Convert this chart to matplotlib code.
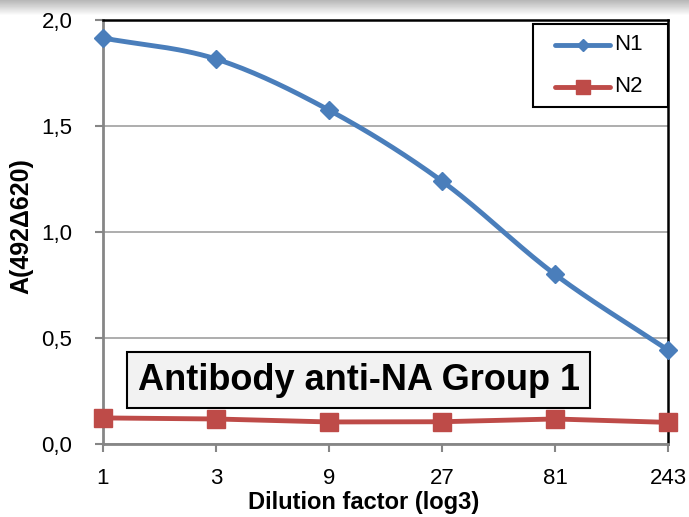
import numpy as np
import matplotlib
matplotlib.use("Agg")
import matplotlib.pyplot as plt
from matplotlib.patches import Rectangle
from matplotlib.lines import Line2D

plt.rcParams['font.family'] = ['Liberation Sans', 'DejaVu Sans']

dilutions = ["1", "3", "9", "27", "81", "243"]
n1 = [1.915, 1.816, 1.575, 1.240, 0.800, 0.443]
n2 = [0.123, 0.118, 0.104, 0.105, 0.118, 0.102]
y_ticks = [0.0, 0.5, 1.0, 1.5, 2.0]
y_tick_labels = ["0,0", "0,5", "1,0", "1,5", "2,0"]
series_names = ["N1", "N2"]

blue = "#4a7ebb"
red = "#be4b48"

def smooth(xs, ys, n=30):
    xs = np.asarray(xs, float); ys = np.asarray(ys, float)
    px = np.concatenate([[2*xs[0]-xs[1]], xs, [2*xs[-1]-xs[-2]]])
    py = np.concatenate([[2*ys[0]-ys[1]], ys, [2*ys[-1]-ys[-2]]])
    ox, oy = [], []
    for i in range(1, len(px)-2):
        t = np.linspace(0, 1, n, endpoint=(i == len(px)-3))
        for arr, out in ((px, ox), (py, oy)):
            p0, p1, p2, p3 = arr[i-1], arr[i], arr[i+1], arr[i+2]
            out.extend(0.5*((2*p1) + (-p0+p2)*t + (2*p0-5*p1+4*p2-p3)*t**2 + (-p0+3*p1-3*p2+p3)*t**3))
    return np.array(ox), np.array(oy)

fig = plt.figure(figsize=(6.89, 5.17), dpi=100)
# top shadow band
sax = fig.add_axes([0, 1-16/517, 1, 16/517])
grad = np.linspace(0.72, 1.0, 16).reshape(-1, 1)
sax.imshow(np.repeat(grad, 10, axis=1), cmap='gray', vmin=0, vmax=1, aspect='auto', extent=[0, 1, 0, 1], origin='upper')
sax.axis('off')

ax = fig.add_axes([103/689, 1-444/517, (668-103)/689, (444-20)/517])
x = np.arange(len(dilutions))
sx, sy = smooth(x, n1)
ax.plot(sx, sy, color=blue, lw=3.5, zorder=3, solid_capstyle='round', clip_on=False)
ax.plot(x, n1, ls='none', marker='D', ms=9, color=blue, zorder=4, clip_on=False)
ax.plot(x, n2, color=red, lw=3.5, marker='s', ms=13, zorder=3, clip_on=False)

ax.set_xlim(0, len(dilutions)-1)
ax.set_ylim(0, 2.0)
ax.set_xticks(x)
ax.set_xticklabels(dilutions, fontsize=16)
ax.set_yticks(y_ticks)
ax.set_yticklabels(y_tick_labels, fontsize=16)
ax.grid(axis='y', color='#a0a0a0', lw=1.2)
ax.set_axisbelow(True)
for s in ['left', 'bottom']:
    ax.spines[s].set_color('#868686'); ax.spines[s].set_linewidth(2)
for s in ['top', 'right']:
    ax.spines[s].set_color('black'); ax.spines[s].set_linewidth(1.8)
ax.tick_params(axis='y', direction='out', length=6, color='#868686', width=1.5, pad=16)
ax.tick_params(axis='x', direction='out', length=6, color='#868686', width=1.5, pad=11)
ax.set_xlabel('Dilution factor (log3)', fontsize=17, fontweight='bold')
ax.xaxis.set_label_coords(0.462, -0.111)
ax.set_ylabel('A(492\u0394620)', fontsize=18, fontweight='bold')
ax.yaxis.set_label_coords(-0.123, 0.514)

# legend drawn manually (Excel style)
tr = ax.transAxes
def fx(px): return (px-103)/565
def fy(py): return (444-py)/424
ax.add_patch(Rectangle((fx(533), fy(107)), fx(668)-fx(533), fy(24)-fy(107), transform=tr,
                       fc='white', ec='black', lw=1.5, zorder=6, clip_on=False))
for name, col, mk, ms, yy in [(series_names[0], blue, 'D', 6, 45), (series_names[1], red, 's', 10, 87)]:
    ax.add_line(Line2D([fx(555), fx(610)], [fy(yy), fy(yy)], transform=tr, color=col, lw=3.5,
                       solid_capstyle='round', zorder=7, clip_on=False))
    ax.add_line(Line2D([fx(582.5)], [fy(yy)], transform=tr, color=col, marker=mk, ms=ms,
                       ls='none', zorder=8, clip_on=False))
    ax.text(fx(614), fy(yy), name, transform=tr, ha='left', va='center', fontsize=16, zorder=9)

ax.text(fx(358.5), fy(380), 'Antibody anti-NA Group 1', transform=tr,
        ha='center', va='center', fontsize=26, fontweight='bold', zorder=6,
        bbox=dict(boxstyle='square,pad=0.28', fc='#f2f2f2', ec='black', lw=1.5))

fig.savefig('out.png', dpi=100)
